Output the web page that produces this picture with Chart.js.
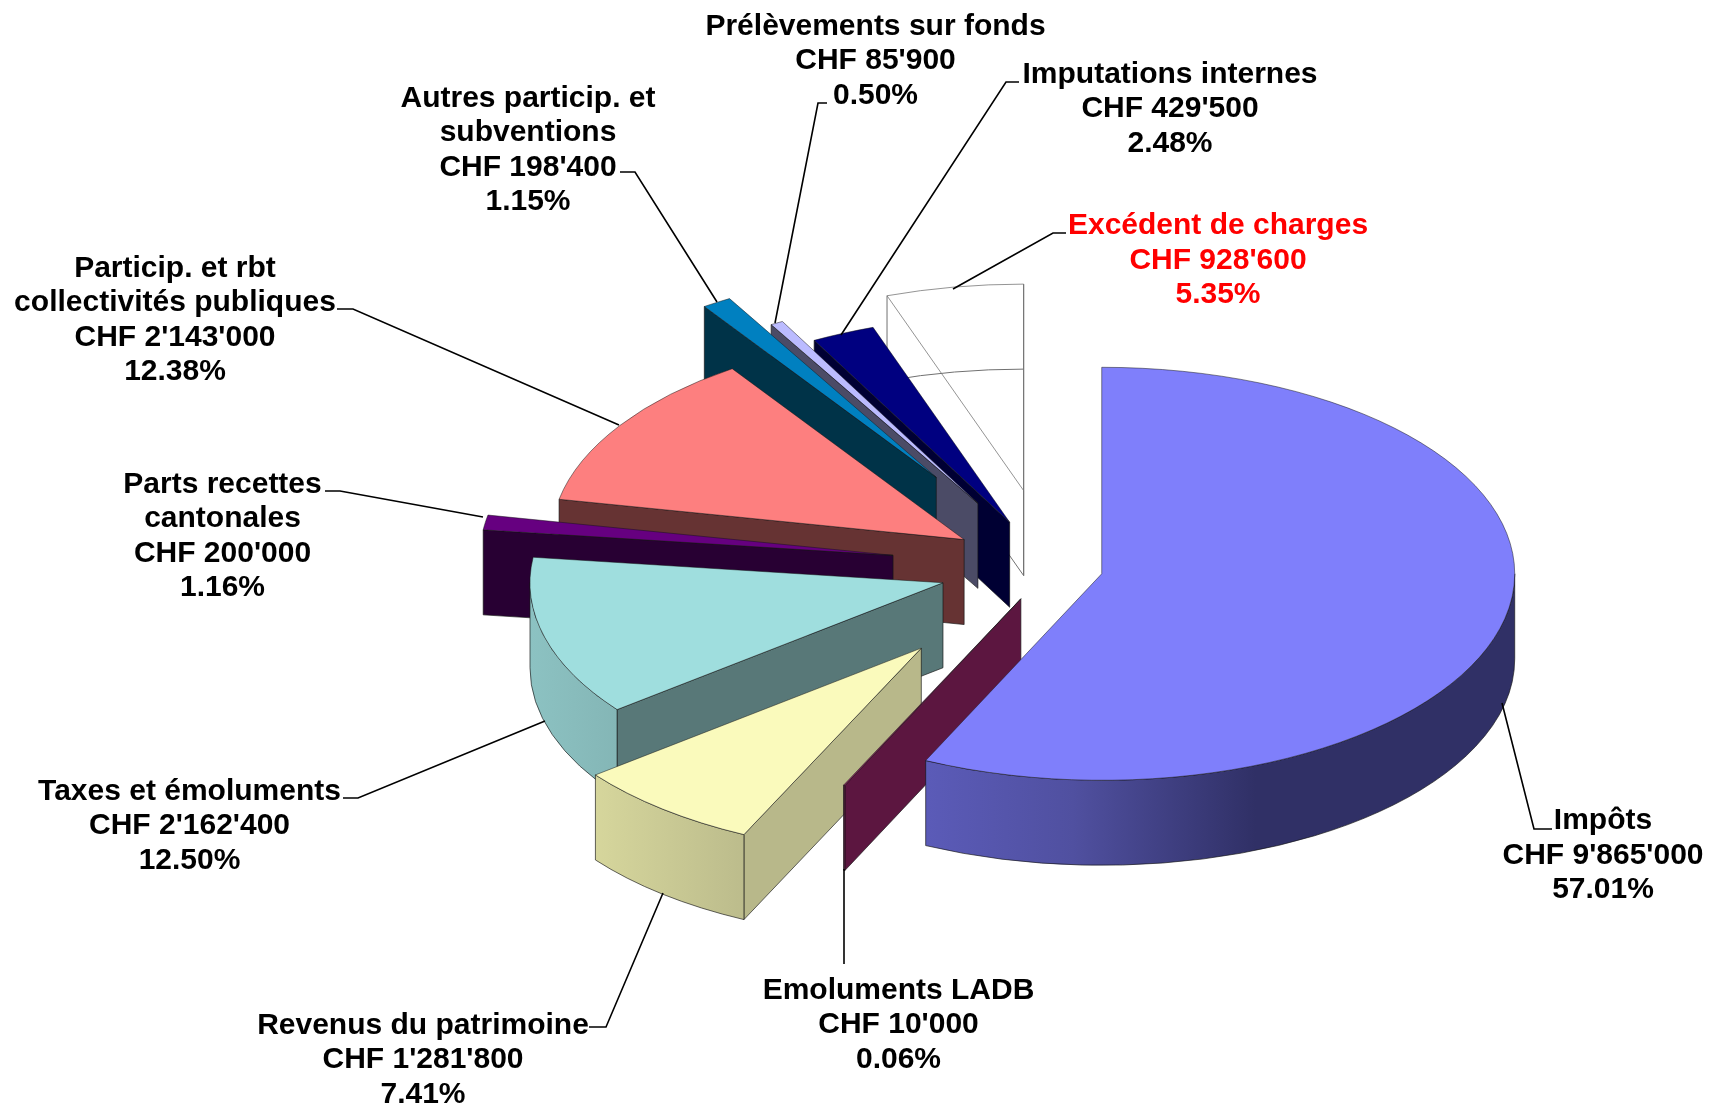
<!DOCTYPE html>
<html><head><meta charset="utf-8">
<style>html,body{margin:0;padding:0;background:#fff}canvas{display:block}</style>
<script src="https://cdn.jsdelivr.net/npm/chart.js@4"></script>
</head><body>
<canvas id="c" width="1718" height="1108"></canvas>
<script>
// ---- data ----
const categories = [["Impôts"],["Emoluments LADB"],["Revenus du patrimoine"],["Taxes et émoluments"],["Parts recettes","cantonales"],["Particip. et rbt","collectivités publiques"],["Autres particip. et","subventions"],["Prélèvements sur fonds"],["Imputations internes"],["Excédent de charges"]];
const amounts = [9865000,10000,1281800,2162400,200000,2143000,198400,85900,429500,928600];
const amountLabels = ["CHF 9'865'000","CHF 10'000","CHF 1'281'800","CHF 2'162'400","CHF 200'000","CHF 2'143'000","CHF 198'400","CHF 85'900","CHF 429'500","CHF 928'600"];
const percentLabels = ["57.01%","0.06%","7.41%","12.50%","1.16%","12.38%","1.15%","0.50%","2.48%","5.35%"];

// ---- style ----
const topColors = ["#7f7ffb","#8a2060","#fafabc","#9fdede","#660080","#fd7f7f","#0080c0","#bbbbff","#000080","rgba(255,255,255,0)"];
const sideColors = ["#2f2f66","#5c1640","#b8b88a","#587878","#280033","#663333","#003348","#4b4b66","#000033",null];
const rimStops = [[[0,"#5b5bb8"],[0.25,"#5050a0"],[0.56,"#303066"],[1,"#303066"]],[[0,"#5c1640"],[1,"#5c1640"]],[[0,"#d6d69c"],[1,"#bcbc8c"]],[[0,"#8cc2c2"],[1,"#84b6b6"]],[[0,"#280033"],[1,"#280033"]],[[0,"#663333"],[1,"#663333"]],[[0,"#003348"],[1,"#003348"]],[[0,"#4b4b66"],[1,"#4b4b66"]],[[0,"#000033"],[1,"#000033"]],null];
const explode = [53,68,205.5,111,159,103,214,148,100,157];
const paintOrder = [9,8,7,6,5,4,3,2,1,0];
const tilt = 0.5, depth = 85, pieRadius = 413;
const labelPos = [[1603,821],[898.5,990.5],[423,1025.5],[189.5,791.5],[222.5,484.5],[175,268.5],[528,98.5],[875.5,26.5],[1170,74.5],[1218,226]];
const leaders = [[[1502,703],[1534,829],[1552,829]],[[844,869],[844,964]],[[663,893],[606,1027],[589,1027]],[[545,721],[358,798],[343,798]],[[483,517],[340,491],[325,491]],[[619,425],[353,309],[337,309]],[[717,302],[635,172],[620,172]],[[775,323],[818,103],[827,103]],[[841,335],[1006,82],[1019,82]],[[953,289],[1053,233],[1066,233]]];
const lineH = 34.5;

const pie3d = {
  id:'pie3d',
  beforeDatasetsDraw(chart){
    const ctx = chart.ctx, arcs = chart.getDatasetMeta(0).data;
    const rimPt = (ax,ay,a,r,dz)=>[ax+r*Math.cos(a), ay+tilt*r*Math.sin(a)+dz];
    paintOrder.forEach(i=>{
      const arc = arcs[i], a=arc.startAngle, b=arc.endAngle, r=arc.outerRadius, mid=(a+b)/2, e=explode[i];
      const ax = arc.x+e*Math.cos(mid), ay = arc.y+tilt*e*Math.sin(mid);
      ctx.save();
      ctx.lineWidth = 1; ctx.lineJoin='bevel';
      if(sideColors[i]===null){
        // wireframe slice: lower outline and verticals seen through the empty slice
        ctx.strokeStyle='#707070';
        ctx.beginPath();
        ctx.moveTo(ax,ay+depth);
        let p=rimPt(ax,ay,a,r,depth); ctx.lineTo(p[0],p[1]);
        ctx.ellipse(ax,ay+depth,r,r*tilt,0,a,b); ctx.closePath();
        [a,b].forEach(t=>{const q=rimPt(ax,ay,t,r,0); ctx.moveTo(q[0],q[1]); ctx.lineTo(q[0],q[1]+depth);});
        ctx.moveTo(ax,ay); ctx.lineTo(ax,ay+depth);
        ctx.stroke();
      } else {
        ctx.strokeStyle='rgba(20,20,20,0.65)';
        // straight side wall
        const cuts=[];
        if(Math.cos(a)<0) cuts.push(a);
        if(Math.cos(b)>0) cuts.push(b);
        cuts.forEach(t=>{
          const p=rimPt(ax,ay,t,r,0);
          ctx.beginPath(); ctx.moveTo(ax,ay); ctx.lineTo(p[0],p[1]); ctx.lineTo(p[0],p[1]+depth); ctx.lineTo(ax,ay+depth); ctx.closePath();
          ctx.fillStyle=sideColors[i]; ctx.fill(); ctx.stroke();
        });
        // curved outer wall (front half only)
        const s=Math.max(a,0), t=Math.min(b,Math.PI);
        if(t>s){
          const x1=ax+r*Math.cos(s), x2=ax+r*Math.cos(t);
          let xL=Math.min(x1,x2), xR=Math.max(x1,x2);
          const g=ctx.createLinearGradient(xL,0,xR,0);
          rimStops[i].forEach(st=>g.addColorStop(st[0],st[1]));
          ctx.beginPath();
          ctx.ellipse(ax,ay,r,r*tilt,0,s,t);
          ctx.ellipse(ax,ay+depth,r,r*tilt,0,t,s,true);
          ctx.closePath();
          ctx.fillStyle=g; ctx.fill(); ctx.stroke();
        }
      }
      ctx.restore();
      // top face: the library's own arc element, seen through the tilt
      ctx.save();
      ctx.translate(0,arc.y); ctx.scale(1,tilt); ctx.translate(0,-arc.y);
      ctx.translate(e*Math.cos(mid), e*Math.sin(mid));
      arc.draw(ctx);
      ctx.restore();
    });
    return false;
  },
  afterDraw(chart){
    const ctx = chart.ctx;
    ctx.save();
    ctx.strokeStyle='#000'; ctx.lineWidth=1.6;
    leaders.forEach(pts=>{ctx.beginPath();pts.forEach((p,k)=>k?ctx.lineTo(p[0],p[1]):ctx.moveTo(p[0],p[1]));ctx.stroke();});
    ctx.font="bold 30px 'Liberation Sans', Arial, sans-serif";
    ctx.textAlign='center'; ctx.textBaseline='middle';
    categories.forEach((names,i)=>{
      ctx.fillStyle = i===9 ? '#ff0000' : '#000';
      const lines=[...names,amountLabels[i],percentLabels[i]];
      lines.forEach((l,k)=>ctx.fillText(l,labelPos[i][0],labelPos[i][1]+k*lineH));
    });
    ctx.restore();
  }
};

new Chart(document.getElementById('c').getContext('2d'),{
  type:'pie',
  data:{labels:categories.map(n=>n.join(' ')),datasets:[{data:amounts,backgroundColor:topColors,
    borderColor:topColors.map((c,i)=>i===9?'#707070':'rgba(20,20,20,0.65)'),borderWidth:1}]},
  options:{responsive:false,animation:false,radius:pieRadius,
    layout:{padding:{left:382,top:28}},
    plugins:{legend:{display:false},tooltip:{enabled:false},title:{display:false}}},
  plugins:[pie3d]
});
</script>
</body></html>
